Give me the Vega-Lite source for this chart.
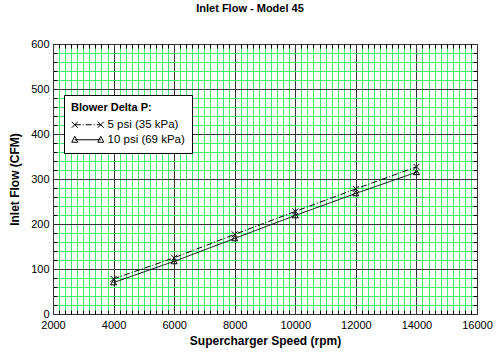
{
  "$schema": "https://vega.github.io/schema/vega-lite/v6.json",
  "autosize": {"type": "none"},
  "padding": {"left": 53, "top": 44, "right": 23, "bottom": 38},
  "width": 424,
  "height": 270,
  "title": {"text": "Inlet Flow - Model 45", "fontSize": 11, "fontWeight": "bold", "font": "Liberation Sans", "color": "#000", "offset": 24, "dx": -15},
  "config": {
    "view": {"stroke": "#000", "strokeWidth": 1},
    "font": "Liberation Sans",
    "axis": {"labelFont": "Liberation Sans", "titleFont": "Liberation Sans", "labelColor": "#000", "titleColor": "#000"}
  },
  "data": {"values": [
    {"rpm": 4000, "cfm": 78, "series": "5 psi (35 kPa)"},
    {"rpm": 6000, "cfm": 125, "series": "5 psi (35 kPa)"},
    {"rpm": 8000, "cfm": 177, "series": "5 psi (35 kPa)"},
    {"rpm": 10000, "cfm": 228, "series": "5 psi (35 kPa)"},
    {"rpm": 12000, "cfm": 278, "series": "5 psi (35 kPa)"},
    {"rpm": 14000, "cfm": 327, "series": "5 psi (35 kPa)"},
    {"rpm": 4000, "cfm": 70, "series": "10 psi (69 kPa)"},
    {"rpm": 6000, "cfm": 117, "series": "10 psi (69 kPa)"},
    {"rpm": 8000, "cfm": 168, "series": "10 psi (69 kPa)"},
    {"rpm": 10000, "cfm": 219, "series": "10 psi (69 kPa)"},
    {"rpm": 12000, "cfm": 268, "series": "10 psi (69 kPa)"},
    {"rpm": 14000, "cfm": 315, "series": "10 psi (69 kPa)"}
  ]},
  "resolve": {"axis": {"x": "independent", "y": "independent"}, "scale": {"shape": "independent"}},
  "layer": [
    {
      "mark": {"type": "line", "color": "#000", "strokeWidth": 1},
      "encoding": {
        "x": {"field": "rpm", "type": "quantitative", "scale": {"domain": [2000, 16000], "nice": false, "zero": false},
          "axis": {"orient": "bottom", "title": null, "labels": false, "domain": false, "ticks": true, "tickSize": -4, "tickColor": "#000", "tickWidth": 1,
            "grid": true, "gridColor": "#3cf06e", "gridWidth": 1, "gridOpacity": 1,
            "values": [2200,2400,2600,2800,3000,3200,3400,3600,3800,4200,4400,4600,4800,5000,5200,5400,5600,5800,6200,6400,6600,6800,7000,7200,7400,7600,7800,8200,8400,8600,8800,9000,9200,9400,9600,9800,10200,10400,10600,10800,11000,11200,11400,11600,11800,12200,12400,12600,12800,13000,13200,13400,13600,13800,14200,14400,14600,14800,15000,15200,15400,15600,15800]}},
        "y": {"field": "cfm", "type": "quantitative", "scale": {"domain": [0, 600], "nice": false},
          "axis": {"orient": "left", "title": null, "labels": false, "domain": false, "ticks": true, "tickSize": -4, "tickColor": "#000", "tickWidth": 1,
            "grid": true, "gridColor": "#3cf06e", "gridWidth": 1, "gridOpacity": 1,
            "values": [20,40,60,80,120,140,160,180,220,240,260,280,320,340,360,380,420,440,460,480,520,540,560,580]}},
        "strokeDash": {"field": "series", "type": "nominal", "scale": {"domain": ["5 psi (35 kPa)", "10 psi (69 kPa)"], "range": [[6, 2, 1, 2], [1, 0]]}, "legend": null},
        "detail": {"field": "series"}
      }
    },
    {
      "mark": {"type": "point", "color": "#000", "filled": false, "strokeWidth": 1, "size": 36, "opacity": 1},
      "encoding": {
        "x": {"field": "rpm", "type": "quantitative", "scale": {"domain": [2000, 16000], "nice": false, "zero": false},
          "axis": {"orient": "bottom", "title": "Supercharger Speed (rpm)", "titleFontSize": 12, "titleFontWeight": "bold", "titlePadding": 5,
            "labelFontSize": 11, "labelPadding": 5, "labelFlush": false, "domain": false, "ticks": false,
            "grid": true, "gridColor": "#333", "gridWidth": 1, "gridOpacity": 1,
            "values": [2000, 4000, 6000, 8000, 10000, 12000, 14000, 16000], "format": "d"}},
        "y": {"field": "cfm", "type": "quantitative", "scale": {"domain": [0, 600], "nice": false},
          "axis": {"orient": "left", "title": "Inlet Flow (CFM)", "titleFontSize": 12, "titleFontWeight": "bold", "titlePadding": 9,
            "labelFontSize": 11, "labelPadding": 4, "labelFlush": false, "domain": false, "ticks": false,
            "grid": true, "gridColor": "#333", "gridWidth": 1, "gridOpacity": 1,
            "values": [0, 100, 200, 300, 400, 500, 600], "format": "d"}},
        "shape": {"field": "series", "type": "nominal", "scale": {"domain": ["5 psi (35 kPa)", "10 psi (69 kPa)"], "range": ["M-1,-1L1,1M-1,1L1,-1", "M-1,0.8L0,-0.9L1,0.8Z"]}, "legend": null}
      }
    },
    {
      "mark": {"type": "point", "color": "#000", "filled": false, "opacity": 0},
      "encoding": {
        "x": {"field": "rpm", "type": "quantitative", "scale": {"domain": [2000, 16000], "nice": false, "zero": false},
          "axis": {"orient": "top", "title": null, "labels": false, "domain": false, "ticks": true, "tickSize": -4, "tickColor": "#000", "grid": false,
            "values": [2200,2400,2600,2800,3000,3200,3400,3600,3800,4200,4400,4600,4800,5000,5200,5400,5600,5800,6200,6400,6600,6800,7000,7200,7400,7600,7800,8200,8400,8600,8800,9000,9200,9400,9600,9800,10200,10400,10600,10800,11000,11200,11400,11600,11800,12200,12400,12600,12800,13000,13200,13400,13600,13800,14200,14400,14600,14800,15000,15200,15400,15600,15800]}},
        "y": {"field": "cfm", "type": "quantitative", "scale": {"domain": [0, 600], "nice": false},
          "axis": {"orient": "right", "title": null, "labels": false, "domain": false, "ticks": true, "tickSize": -4, "tickColor": "#000", "grid": false,
            "values": [20,40,60,80,120,140,160,180,220,240,260,280,320,340,360,380,420,440,460,480,520,540,560,580]}},
        "shape": {"field": "series", "type": "nominal",
          "scale": {"domain": ["5 psi (35 kPa)", "10 psi (69 kPa)"],
            "range": ["M-1,-0.6L0.2,0.6M-1,0.6L0.2,-0.6M4.2,-0.6L5.4,0.6M4.2,0.6L5.4,-0.6M-0.4,0L0.8,0M1.2,0L1.4,0M1.8,0L3,0M3.4,0L3.6,0M4,0L4.8,0",
                      "M-1,0.5L-0.4,-0.7L0.2,0.5ZM4.2,0.5L4.8,-0.7L5.4,0.5ZM-0.4,0L4.8,0"]},
          "legend": {"title": "Blower Delta P:", "orient": "none", "legendX": 11, "legendY": 51,
            "titleFont": "Liberation Sans", "titleFontSize": 11, "titleFontWeight": "bold", "titleColor": "#000", "titlePadding": 6,
            "labelFont": "Liberation Sans", "labelFontSize": 11.5, "labelColor": "#000", "labelOffset": 25,
            "symbolSize": 100, "symbolStrokeWidth": 1, "symbolStrokeColor": "#000", "symbolFillColor": "transparent", "symbolOpacity": 1,
            "rowPadding": 2, "padding": 7, "fillColor": "#fff", "strokeColor": "#000",
            "encode": {"symbols": {"update": {"opacity": {"value": 1}, "stroke": {"value": "#000"}, "fill": {"value": "transparent"}, "strokeWidth": {"value": 1}}}}}}
      }
    }
  ]
}
